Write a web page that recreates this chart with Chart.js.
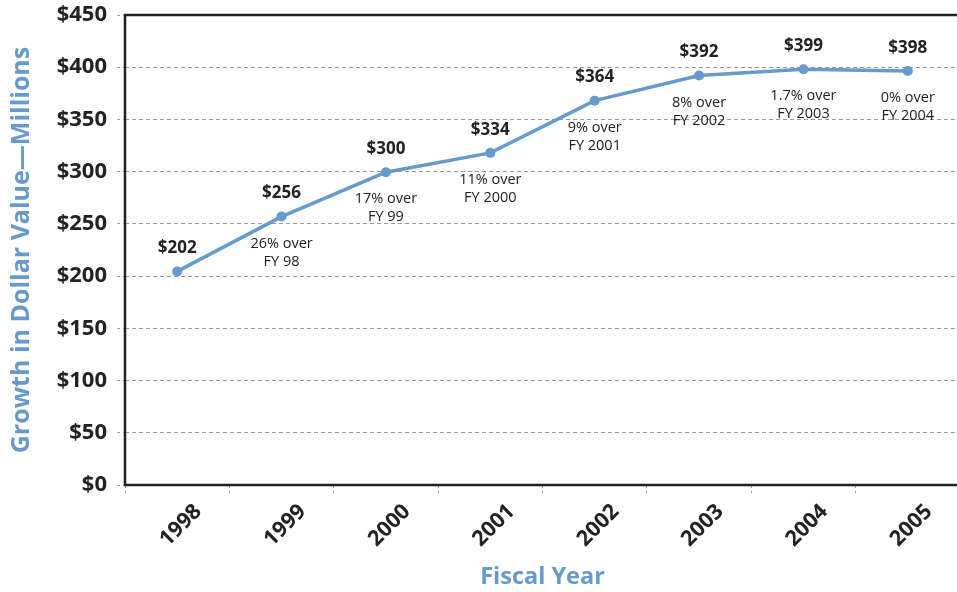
<!DOCTYPE html>
<html>
<head>
<meta charset="utf-8">
<script src="https://cdn.jsdelivr.net/npm/chart.js@4"></script>
<style>
html,body{margin:0;padding:0;background:#fff;overflow:hidden;}
#wrap{width:965px;height:592px;position:relative;}
</style>
</head>
<body>
<div id="wrap"><canvas id="c"></canvas></div>
<script>
const categories = ['1998','1999','2000','2001','2002','2003','2004','2005'];
const values = [204.5, 257, 299.5, 318, 368, 392, 398, 396.5];
const valueLabels = ['$202','$256','$300','$334','$364','$392','$399','$398'];
const pctLabels = [null, ['26% over','FY 98'], ['17% over','FY 99'], ['11% over','FY 2000'],
  ['9% over','FY 2001'], ['8% over','FY 2002'], ['1.7% over','FY 2003'], ['0% over','FY 2004']];
const yTicks = [0,50,100,150,200,250,300,350,400,450];

const BLUE = '#6699cc';
const FONT = "'Open Sans', 'DejaVu Sans', sans-serif";

const annotate = {
  id: 'annotate',
  afterDatasetsDraw(chart) {
    const ctx = chart.ctx;
    const meta = chart.getDatasetMeta(0);
    ctx.save();
    ctx.textAlign = 'center';
    ctx.textBaseline = 'middle';
    ctx.fillStyle = '#222';
    meta.data.forEach((pt, i) => {
      ctx.font = "bold 17px " + FONT;
      ctx.fillText(valueLabels[i], pt.x, pt.y - 23);
      const p = pctLabels[i];
      if (p) {
        ctx.font = "14.5px " + FONT;
        p.forEach((line, j) => ctx.fillText(line, pt.x, pt.y + 27 + j * 18));
      }
    });
    ctx.restore();
  }
};

const frame = {
  id: 'frame',
  afterDraw(chart) {
    const {ctx, chartArea} = chart;
    ctx.save();
    ctx.strokeStyle = '#222';
    ctx.lineWidth = 2.5;
    ctx.setLineDash([]);
    ctx.beginPath();
    ctx.moveTo(chartArea.right + 5, chartArea.top);
    ctx.lineTo(chartArea.left, chartArea.top);
    ctx.lineTo(chartArea.left, chartArea.bottom);
    ctx.lineTo(chartArea.right + 5, chartArea.bottom);
    ctx.stroke();
    ctx.restore();
  }
};

new Chart(document.getElementById('c'), {
  type: 'line',
  data: {
    labels: categories,
    datasets: [{
      data: values,
      borderColor: BLUE,
      backgroundColor: BLUE,
      borderWidth: 3.5,
      pointRadius: 5,
      pointBackgroundColor: BLUE,
      pointBorderWidth: 0,
      tension: 0
    }]
  },
  options: {
    responsive: true,
    maintainAspectRatio: false,
    animation: false,
    layout: { padding: { top: 15, right: 4, left: 0, bottom: 0 } },
    plugins: { legend: { display: false }, tooltip: { enabled: false } },
    scales: {
      x: {
        offset: true,
        grid: {
          offset: true,
          drawOnChartArea: false,
          drawTicks: true,
          tickLength: 8,
          tickColor: '#999',
          tickBorderDash: [3, 3],
          tickWidth: 1
        },
        border: { display: false },
        ticks: {
          color: '#222',
          font: { family: FONT, size: 21.5, weight: 'bold' },
          minRotation: 45,
          maxRotation: 45,
          padding: 6,
          labelOffset: 21,
          autoSkip: false
        },
        title: {
          display: true,
          text: 'Fiscal Year',
          color: BLUE,
          font: { family: FONT, size: 23.5, weight: 'bold' },
          padding: { top: 1, bottom: 1 }
        },
        afterFit(scale) { scale.height = 107; scale.paddingLeft = 0; scale.paddingRight = 0; }
      },
      y: {
        min: 0,
        max: 450,
        afterBuildTicks(scale) { scale.ticks = yTicks.map(v => ({ value: v })); },
        grid: {
          color: '#999',
          lineWidth: 1,
          drawTicks: true,
          tickLength: 8,
          tickColor: '#999',
          tickBorderDash: [3, 3]
        },
        border: { display: false, dash: [4, 3] },
        ticks: {
          color: '#222',
          font: { family: FONT, size: 22, weight: 'bold' },
          padding: 10,
          callback: v => '$' + v
        },
        title: {
          display: true,
          text: 'Growth in Dollar Value\u2014Millions',
          color: BLUE,
          font: { family: FONT, size: 25, weight: 'bold' },
          padding: { top: 7, bottom: 2 }
        },
        afterFit(scale) { scale.width = 125; scale.paddingTop = 0; scale.paddingBottom = 0; }
      }
    }
  },
  plugins: [annotate, frame]
});
</script>
</body>
</html>
